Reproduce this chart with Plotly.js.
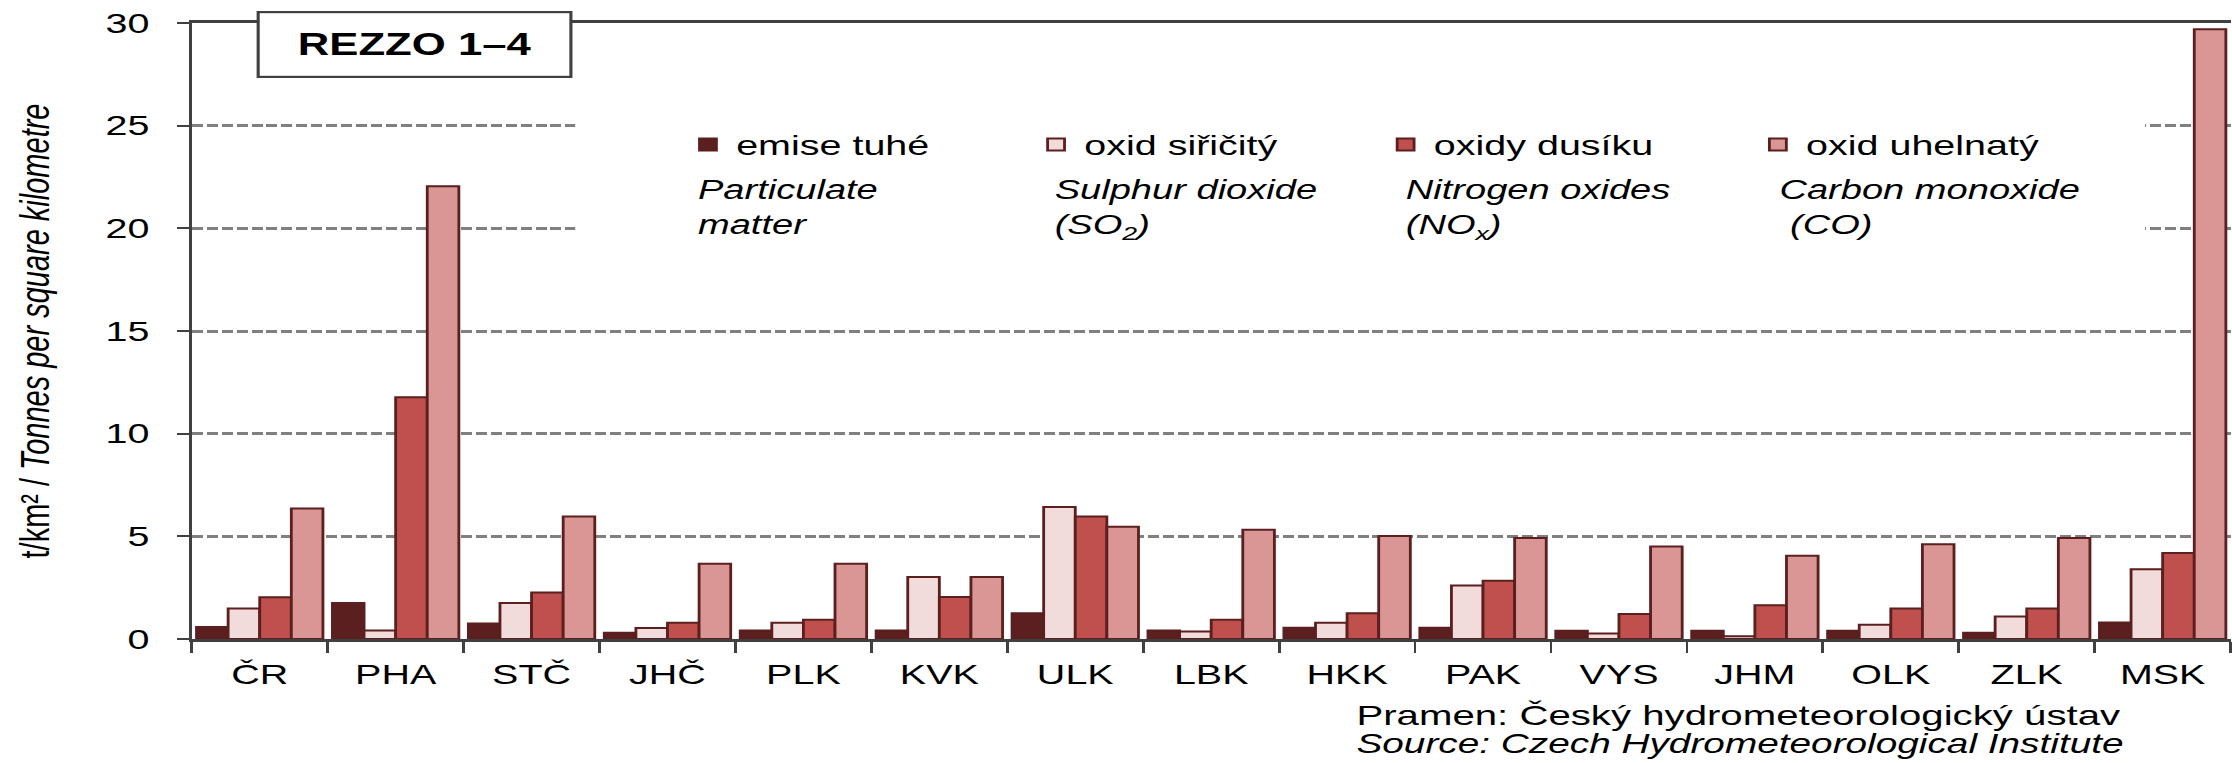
<!DOCTYPE html>
<html>
<head>
<meta charset="utf-8">
<script src="https://cdn.plot.ly/plotly-3.0.1.min.js"></script>
<style>
  html, body { margin: 0; padding: 0; background: #ffffff; overflow: hidden; }
  #wrap { width: 2232px; height: 763px; overflow: hidden; position: relative; }
  #chart { position: absolute; left: 0; top: 0; transform-origin: 0 0; }
</style>
</head>
<body>
<div id="wrap"><div id="chart"></div></div>
<script>
// ---- data ----
const categories = ['ČR','PHA','STČ','JHČ','PLK','KVK','ULK','LBK','HKK','PAK','VYS','JHM','OLK','ZLK','MSK'];
const particulate    = [0.58, 1.75, 0.75, 0.30, 0.42, 0.42, 1.26, 0.42, 0.55, 0.55, 0.40, 0.40, 0.40, 0.30, 0.80];
const sulphurDioxide = [1.49, 0.42, 1.75, 0.54, 0.79, 3.02, 6.43, 0.37, 0.79, 2.60, 0.27, 0.13, 0.70, 1.09, 3.40];
const nitrogenOxides = [2.03, 11.77, 2.27, 0.79, 0.94, 2.05, 5.97, 0.94, 1.26, 2.84, 1.22, 1.64, 1.49, 1.49, 4.19];
const carbonMonoxide = [6.36, 22.05, 5.97, 3.66, 3.66, 3.02, 5.47, 5.32, 5.02, 4.92, 4.50, 4.06, 4.61, 4.92, 29.7];
const seriesNamesCz = ['emise tuhé', 'oxid siřičitý', 'oxidy dusíku', 'oxid uhelnatý'];
const seriesNamesEn = ['Particulate<br>matter', 'Sulphur dioxide<br>(SO<sub>2</sub>)', 'Nitrogen oxides<br>(NO<sub>x</sub>)', 'Carbon monoxide<br>\u00a0(CO)'];
const yTicks = [0, 5, 10, 15, 20, 25, 30];
const boxLabel = 'REZZO 1–4';
const yTitle = 't/km² / <i>Tonnes per square kilometre</i>';
const sourceCz = 'Pramen: Český hydrometeorologický ústav';
const sourceEn = 'Source: Czech Hydrometeorological Institute';

// ---- geometry ----
const S = 1.41;               // horizontal stretch of the original picture
const FULL_W = 2232, H = 763;
const W = FULL_W / S;
const ML = 191.5 / S, MR = 1, MT = 23.3, MB = H - 639.3;
const plotW = W - ML - MR, plotH = H - MT - MB;
const px = fx => (fx / S - ML) / plotW;
const py = fy => 1 - (fy - MT) / plotH;

const FONT = 'Liberation Sans, Arial, sans-serif';
const OUTLINE = '#5b1f1f';
const fills = ['#5b1f1f', '#f2dcdb', '#c0504d', '#d99694'];
const values = [particulate, sulphurDioxide, nitrogenOxides, carbonMonoxide];
const legendIds = ['legend', 'legend2', 'legend3', 'legend4'];
const squareCenters = [711.75, 1059.9, 1409.5, 1781.8];
const enLeft = [697.6, 1053.5, 1405, 1779];

const traces = values.map((v, i) => ({
  type: 'bar',
  name: seriesNamesCz[i],
  x: categories,
  y: v,
  legend: legendIds[i],
  marker: { color: fills[i], line: { color: OUTLINE, width: 2 } },
  hoverinfo: 'x+y+name'
}));

const layout = {
  width: W, height: H,
  margin: { l: ML, r: MR, t: MT, b: MB, pad: 0 },
  paper_bgcolor: '#ffffff', plot_bgcolor: '#ffffff',
  font: { family: FONT, color: '#000000', size: 28 },
  barmode: 'group', bargap: 0.07, bargroupgap: 0,
  showlegend: true,
  xaxis: {
    type: 'category', categoryorder: 'array', categoryarray: categories,
    tickson: 'boundaries', ticks: 'outside', ticklen: 11, tickwidth: 1.7, tickcolor: '#404040',
    showline: true, linecolor: '#404040', linewidth: 3, mirror: true,
    showgrid: false, zeroline: false, automargin: false, ticklabelstandoff: 8,
    tickfont: { family: FONT, size: 28, color: '#000000' }
  },
  yaxis: {
    range: [0, 30], tickmode: 'array', tickvals: yTicks, ticktext: yTicks.map(String),
    ticks: 'outside', ticklen: 8.5, tickwidth: 2, tickcolor: '#404040',
    showline: true, linecolor: '#404040', linewidth: 1.7,
    showgrid: true, gridcolor: '#808080', gridwidth: 2.5, griddash: '7.8px,2.8px',
    zeroline: false, automargin: false, ticklabelstandoff: 14,
    tickfont: { family: FONT, size: 28, color: '#000000' },
    title: { text: yTitle, font: { family: FONT, size: 29, color: '#000000' }, standoff: 31 }
  },
  shapes: [
    { type: 'rect', xref: 'paper', yref: 'paper', x0: px(575), x1: px(2145), y0: py(280), y1: py(60),
      fillcolor: '#ffffff', line: { width: 0 }, layer: 'above' }
  ],
  annotations: [
    { xref: 'paper', yref: 'paper', x: px(414), y: py(44.5), xanchor: 'center', yanchor: 'middle',
      text: '<b>' + boxLabel + '</b>', showarrow: false,
      font: { family: FONT, size: 31, color: '#000000' },
      bgcolor: '#ffffff', bordercolor: '#404040', borderwidth: 2.2, borderpad: 0,
      width: 220, height: 62.6 },
    { xref: 'paper', yref: 'paper', x: px(1354), y: py(715), xanchor: 'left', yanchor: 'middle',
      align: 'left', text: sourceCz, showarrow: false,
      font: { family: FONT, size: 28.5, color: '#000000' } },
    { xref: 'paper', yref: 'paper', x: px(1354), y: py(743.5), xanchor: 'left', yanchor: 'middle',
      align: 'left', text: '<i>' + sourceEn + '</i>', showarrow: false,
      font: { family: FONT, size: 27.5, color: '#000000' } }
  ].concat(seriesNamesEn.map((t, i) => ({
      xref: 'paper', yref: 'paper', x: px(enLeft[i] - 2), y: py(173), xanchor: 'left', yanchor: 'top',
      align: 'left', text: '<i>' + t + '</i>', showarrow: false,
      font: { family: FONT, size: 27, color: '#000000' } })))
};

legendIds.forEach((id, i) => {
  const lxUnscaled = (squareCenters[i] - 4) / S - 20;
  layout[id] = {
    x: (lxUnscaled - ML) / plotW, y: py(145), xanchor: 'left', yanchor: 'middle',
    orientation: 'h', bgcolor: 'rgba(0,0,0,0)', borderwidth: 0,
    font: { family: FONT, size: 28, color: '#000000' }
  };
});

const el = document.getElementById('chart');
el.style.width = W + 'px';
el.style.height = H + 'px';
el.style.transform = 'scaleX(' + S + ')';
Plotly.newPlot(el, traces, layout, { displayModeBar: false, responsive: false });
</script>
</body>
</html>
